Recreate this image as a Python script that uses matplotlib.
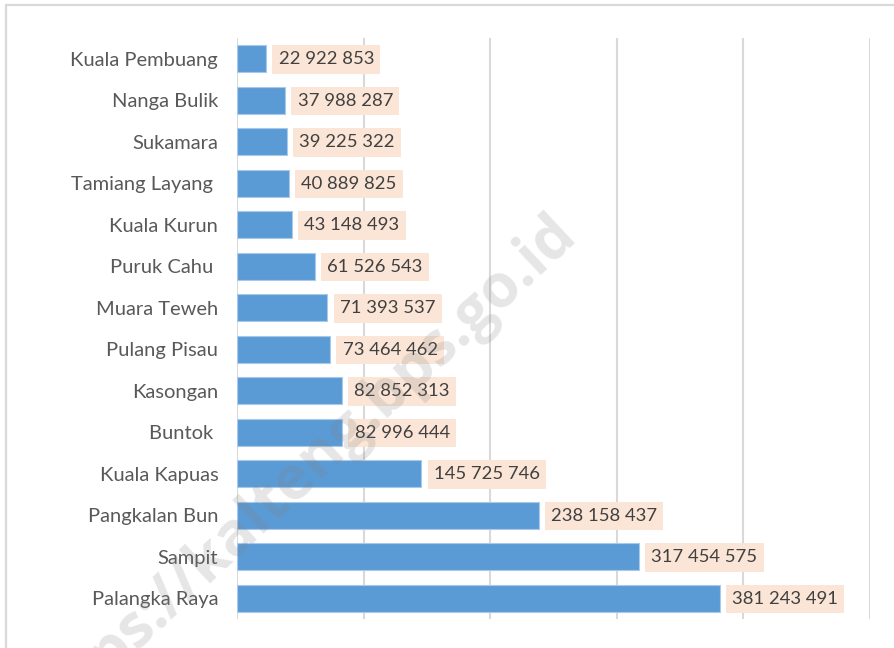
import matplotlib.pyplot as plt
from matplotlib.patches import Rectangle

# kota / kabupaten, dari atas ke bawah
kota = ["Kuala Pembuang", "Nanga Bulik", "Sukamara", "Tamiang Layang ",
        "Kuala Kurun", "Puruk Cahu ", "Muara Teweh", "Pulang Pisau",
        "Kasongan", "Buntok ", "Kuala Kapuas", "Pangkalan Bun",
        "Sampit", "Palangka Raya"]
nilai = [22922853, 37988287, 39225322, 40889825, 43148493, 61526543,
         71393537, 73464462, 82852313, 82996444, 145725746, 238158437,
         317454575, 381243491]
grid_ticks = [0, 100e6, 200e6, 300e6, 400e6, 500e6]

plt.rcParams['font.family'] = ['Lato', 'DejaVu Sans']

fig = plt.figure(figsize=(8.94, 6.48), dpi=100)
ax = fig.add_axes([237/894, 1-619/648, (870-237)/894, (619-38)/648])

# bingkai luar
fig.patches.append(Rectangle((6/894, -0.05), 1.2, 1.05-5/648, transform=fig.transFigure,
                             fill=False, edgecolor='#D9D9D9', linewidth=1.6))

y = list(range(len(kota)))
ax.barh(y, nilai, height=0.65, color='#5B9BD5', edgecolor='#A9C9EA', linewidth=0.8, zorder=3)

for yi, v in zip(y, nilai):
    lbl = f"{v:,}".replace(",", " ")
    ax.annotate(lbl, (v, yi), xytext=(9, -0.5), textcoords='offset points',
                va='center', ha='left', fontsize=13.3, color='#404040', zorder=4,
                bbox=dict(boxstyle='square,pad=0.34', facecolor='#FBE5D6', edgecolor='none'))

ax.set_xlim(0, 500e6)
ax.set_ylim(len(kota) - 0.5, -0.5)
ax.set_xticks(grid_ticks)
ax.set_xticklabels([])
ax.set_yticks(y)
ax.set_yticklabels(kota, fontsize=14.5, color='#595959')
ax.tick_params(axis='both', length=0)
ax.tick_params(axis='y', pad=13.5)
ax.grid(axis='x', color='#D9D9D9', linewidth=1.5, zorder=0)
for s in ax.spines.values():
    s.set_visible(False)

# watermark
fig.text(578/894, 1-236/648, "https://kalteng.bps.go.id", rotation=43,
         rotation_mode='anchor', ha='right', va='baseline', fontsize=43,
         fontweight='bold', family=['Open Sans', 'DejaVu Sans'],
         color='#808080', alpha=0.2, zorder=10)

fig.savefig("out.png", dpi=100)
